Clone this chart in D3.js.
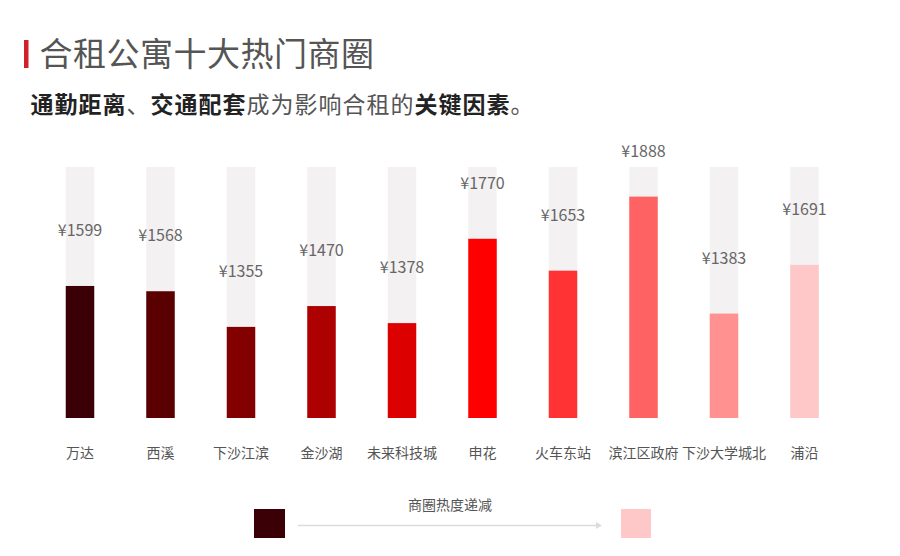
<!DOCTYPE html>
<html>
<head>
<meta charset="utf-8">
<script src="https://cdn.jsdelivr.net/npm/d3@7"></script>
<style>
  html, body { margin: 0; padding: 0; background: #ffffff; }
  svg { display: block; font-family: "Noto Sans CJK SC", "Noto Sans", sans-serif; }
</style>
</head>
<body>
<svg id="chart" width="900" height="556"></svg>
<script>
// ---- data ----
const titleText = "合租公寓十大热门商圈";
const subtitleParts = [
  { t: "通勤距离", bold: true },
  { t: "、", bold: false },
  { t: "交通配套", bold: true },
  { t: "成为影响合租的", bold: false },
  { t: "关键因素", bold: true },
  { t: "。", bold: false }
];
const categories = ["万达", "西溪", "下沙江滨", "金沙湖", "未来科技城", "申花", "火车东站", "滨江区政府", "下沙大学城北", "浦沿"];
const rents = [1599, 1568, 1355, 1470, 1378, 1770, 1653, 1888, 1383, 1691];
// bar fill level (% of the full grey track)
const fillLevels = [52.6, 50.5, 36.3, 44.6, 37.8, 71.4, 58.7, 88.2, 41.6, 61.0];
const barColors = ["#3b0006", "#5a0000", "#820000", "#ad0000", "#dd0000", "#ff0000", "#ff3333", "#ff6262", "#ff9191", "#fec8c8"];
const legendText = "商圈热度递减";

// ---- layout ----
const svg = d3.select("#chart");
const x = d3.scalePoint().domain(categories).range([80, 804.5]);
const y = d3.scaleLinear().domain([0, 100]).range([418, 167]);
const barW = 28.5;

// title
svg.append("rect").attr("x", 24).attr("y", 40).attr("width", 4.5).attr("height", 28).attr("fill", "#d0202a");
svg.append("text").attr("x", 39.5).attr("y", 65.5).attr("font-size", 33).attr("fill", "#555")
  .attr("letter-spacing", 0.5).text(titleText);

// subtitle
const sub = svg.append("text").attr("x", 30.5).attr("y", 112.5).attr("font-size", 23).attr("letter-spacing", 1);
subtitleParts.forEach(p => {
  sub.append("tspan")
    .attr("font-weight", p.bold ? 700 : 400)
    .attr("fill", p.bold ? "#222" : "#555")
    .text(p.t);
});

// tracks
const g = svg.append("g");
g.selectAll("rect.track").data(categories).join("rect")
  .attr("class", "track")
  .attr("x", d => x(d) - barW / 2)
  .attr("y", y(100))
  .attr("width", barW)
  .attr("height", y(0) - y(100))
  .attr("fill", "#f3f1f2");

// filled bars
g.selectAll("rect.bar").data(categories).join("rect")
  .attr("class", "bar")
  .attr("x", d => x(d) - barW / 2)
  .attr("y", (d, i) => y(fillLevels[i]))
  .attr("width", barW)
  .attr("height", (d, i) => y(0) - y(fillLevels[i]))
  .attr("fill", (d, i) => barColors[i]);

// value labels
g.selectAll("text.val").data(categories).join("text")
  .attr("class", "val")
  .attr("x", d => x(d))
  .attr("y", (d, i) => Math.max(y(fillLevels[i]) - 56, 150.5) + 6)
  .attr("text-anchor", "middle")
  .attr("font-size", 16)
  .attr("fill", "#666")
  .text((d, i) => "¥" + rents[i]);

// category labels
g.selectAll("text.cat").data(categories).join("text")
  .attr("class", "cat")
  .attr("x", d => x(d))
  .attr("y", 458)
  .attr("text-anchor", "middle")
  .attr("font-size", 14)
  .attr("fill", "#555")
  .text(d => d);

// legend
svg.append("rect").attr("x", 254).attr("y", 509).attr("width", 31).attr("height", 29).attr("fill", barColors[0]);
svg.append("rect").attr("x", 621).attr("y", 509).attr("width", 30).attr("height", 29).attr("fill", barColors[barColors.length - 1]);
svg.append("line").attr("x1", 298).attr("x2", 597).attr("y1", 525.5).attr("y2", 525.5)
  .attr("stroke", "#dcdcdc").attr("stroke-width", 1.5);
svg.append("path").attr("d", "M596,522 L602,525.5 L596,529 Z").attr("fill", "#dcdcdc");
svg.append("text").attr("x", 450).attr("y", 510).attr("text-anchor", "middle")
  .attr("font-size", 14).attr("fill", "#555").text(legendText);
</script>
</body>
</html>
